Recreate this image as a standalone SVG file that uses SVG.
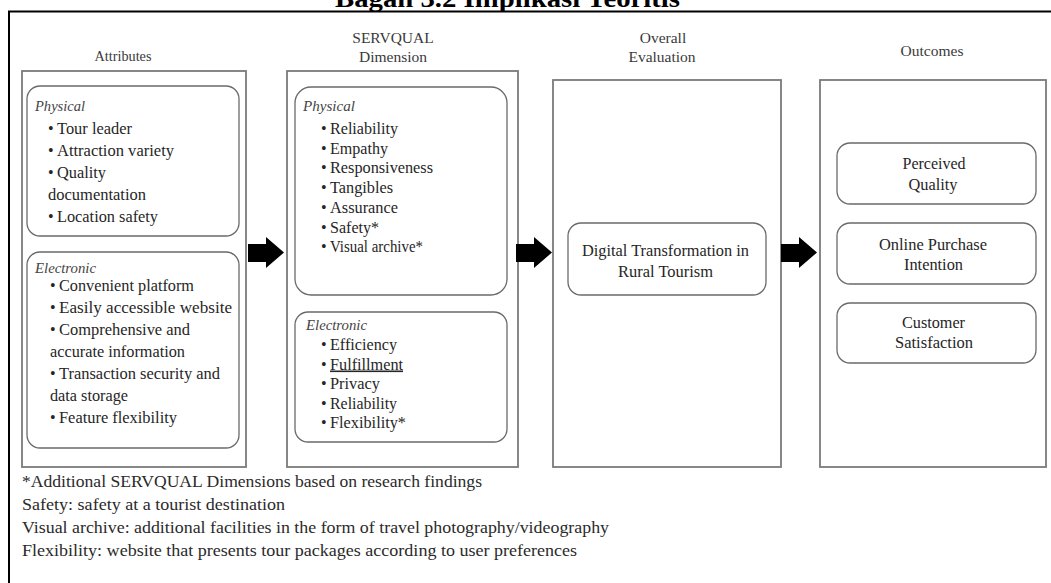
<svg xmlns="http://www.w3.org/2000/svg" width="1051" height="583" viewBox="0 0 1051 583">
<style>
text{font-family:"Liberation Serif","Times New Roman",serif;fill:#262626}
.lbl{font-size:15.5px;fill:#3a3a3a;text-anchor:middle}
.it{font-size:16px}
.hd{font-size:14px;font-style:italic;fill:#444}
.mid{font-size:16px;text-anchor:middle}
.note{font-size:16px;fill:#2a2a2a}
.col{fill:#fff;stroke:#7a7a7a;stroke-width:1.8}
.box{fill:#fff;stroke:#6a6a6a;stroke-width:1.3}
.frame{stroke:#000;stroke-width:2;fill:none}
.arr{fill:#000}
</style>
<defs>
<path id="arrow" d="M0,244 H18 V237 L36,252.5 L18,268 V262 H0 Z"/>
</defs>
<rect width="1051" height="583" fill="#fff"/>
<text x="335" y="7" font-size="26" font-weight="bold" textLength="345" lengthAdjust="spacingAndGlyphs" style="fill:#000">Bagan 3.2 Implikasi Teoritis</text>
<path class="frame" d="M1051,11.5 H9 V583"/>

<g id="attributes">
<rect class="col" x="22" y="71" width="224" height="396"/>
<text class="lbl" x="123" y="61" textLength="57" lengthAdjust="spacingAndGlyphs">Attributes</text>
</g>
<g id="attr-physical">
<rect class="box" x="27" y="86" width="212" height="150" rx="13"/>
<text class="hd" x="35" y="111" textLength="50" lengthAdjust="spacingAndGlyphs">Physical</text>
<text class="it" x="48" y="134">•</text><text class="it" x="57" y="134" textLength="75" lengthAdjust="spacingAndGlyphs">Tour leader</text>
<text class="it" x="48" y="156">•</text><text class="it" x="57" y="156" textLength="117" lengthAdjust="spacingAndGlyphs">Attraction variety</text>
<text class="it" x="48" y="178">•</text><text class="it" x="57" y="178" textLength="49" lengthAdjust="spacingAndGlyphs">Quality</text>
<text class="it" x="48" y="200" textLength="98" lengthAdjust="spacingAndGlyphs">documentation</text>
<text class="it" x="48" y="222">•</text><text class="it" x="57" y="222" textLength="101" lengthAdjust="spacingAndGlyphs">Location safety</text>
</g>
<g id="attr-electronic">
<rect class="box" x="27" y="252" width="212" height="196" rx="13"/>
<text class="hd" x="35" y="273" textLength="61" lengthAdjust="spacingAndGlyphs">Electronic</text>
<text class="it" x="50" y="291">•</text><text class="it" x="59" y="291" textLength="135" lengthAdjust="spacingAndGlyphs">Convenient platform</text>
<text class="it" x="50" y="313">•</text><text class="it" x="59" y="313" textLength="173" lengthAdjust="spacingAndGlyphs">Easily accessible website</text>
<text class="it" x="50" y="335">•</text><text class="it" x="59" y="335" textLength="131" lengthAdjust="spacingAndGlyphs">Comprehensive and</text>
<text class="it" x="50" y="357" textLength="135" lengthAdjust="spacingAndGlyphs">accurate information</text>
<text class="it" x="50" y="379">•</text><text class="it" x="59" y="379" textLength="161" lengthAdjust="spacingAndGlyphs">Transaction security and</text>
<text class="it" x="50" y="401" textLength="78" lengthAdjust="spacingAndGlyphs">data storage</text>
<text class="it" x="50" y="423">•</text><text class="it" x="59" y="423" textLength="118" lengthAdjust="spacingAndGlyphs">Feature flexibility</text>
</g>

<g id="servqual">
<rect class="col" x="287" y="71" width="231" height="396"/>
<text class="lbl" x="393" y="43">SERVQUAL</text>
<text class="lbl" x="393" y="62">Dimension</text>
</g>
<g id="sq-physical">
<rect class="box" x="295" y="87" width="212" height="208" rx="16"/>
<text class="hd" x="303" y="111" textLength="52" lengthAdjust="spacingAndGlyphs">Physical</text>
<text class="it" x="321" y="134">•</text><text class="it" x="330" y="134" textLength="68" lengthAdjust="spacingAndGlyphs">Reliability</text>
<text class="it" x="321" y="153.7">•</text><text class="it" x="330" y="153.7" textLength="58" lengthAdjust="spacingAndGlyphs">Empathy</text>
<text class="it" x="321" y="173.4">•</text><text class="it" x="330" y="173.4" textLength="103" lengthAdjust="spacingAndGlyphs">Responsiveness</text>
<text class="it" x="321" y="193.1">•</text><text class="it" x="330" y="193.1" textLength="63" lengthAdjust="spacingAndGlyphs">Tangibles</text>
<text class="it" x="321" y="212.8">•</text><text class="it" x="330" y="212.8" textLength="68" lengthAdjust="spacingAndGlyphs">Assurance</text>
<text class="it" x="321" y="232.5">•</text><text class="it" x="330" y="232.5" textLength="49" lengthAdjust="spacingAndGlyphs">Safety*</text>
<text class="it" x="321" y="252.2">•</text><text class="it" x="330" y="252.2" textLength="93" lengthAdjust="spacingAndGlyphs">Visual archive*</text>
</g>
<g id="sq-electronic">
<rect class="box" x="295" y="312" width="212" height="130" rx="13"/>
<text class="hd" x="306" y="330" textLength="61" lengthAdjust="spacingAndGlyphs">Electronic</text>
<text class="it" x="321" y="350">•</text><text class="it" x="330" y="350" textLength="67" lengthAdjust="spacingAndGlyphs">Efficiency</text>
<text class="it" x="321" y="369.5">•</text><text class="it" x="330" y="369.5" textLength="73" lengthAdjust="spacingAndGlyphs" text-decoration="underline">Fulfillment</text>
<text class="it" x="321" y="389">•</text><text class="it" x="330" y="389" textLength="50" lengthAdjust="spacingAndGlyphs">Privacy</text>
<text class="it" x="321" y="408.5">•</text><text class="it" x="330" y="408.5" textLength="67" lengthAdjust="spacingAndGlyphs">Reliability</text>
<text class="it" x="321" y="428">•</text><text class="it" x="330" y="428" textLength="76" lengthAdjust="spacingAndGlyphs">Flexibility*</text>
</g>

<g id="overall">
<rect class="col" x="553" y="80" width="228" height="387"/>
<text class="lbl" x="663" y="43">Overall</text>
<text class="lbl" x="662" y="62">Evaluation</text>
</g>
<g id="digital-transformation">
<rect class="box" x="568" y="223" width="198" height="72" rx="13"/>
<text class="mid" x="665.5" y="256" textLength="167" lengthAdjust="spacingAndGlyphs">Digital Transformation in</text>
<text class="mid" x="665.5" y="277" textLength="95" lengthAdjust="spacingAndGlyphs">Rural Tourism</text>
</g>

<g id="outcomes">
<rect class="col" x="820" y="80" width="226" height="387"/>
<text class="lbl" x="932" y="56">Outcomes</text>
</g>
<g id="perceived-quality">
<rect class="box" x="837" y="143" width="199" height="61" rx="13"/>
<text class="mid" x="934" y="169" textLength="63" lengthAdjust="spacingAndGlyphs">Perceived</text>
<text class="mid" x="933" y="190" textLength="49" lengthAdjust="spacingAndGlyphs">Quality</text>
</g>
<g id="online-purchase-intention">
<rect class="box" x="837" y="223" width="199" height="61" rx="13"/>
<text class="mid" x="933" y="250" textLength="108" lengthAdjust="spacingAndGlyphs">Online Purchase</text>
<text class="mid" x="933.5" y="270" textLength="59" lengthAdjust="spacingAndGlyphs">Intention</text>
</g>
<g id="customer-satisfaction">
<rect class="box" x="837" y="303" width="199" height="60" rx="13"/>
<text class="mid" x="933.5" y="328" textLength="63" lengthAdjust="spacingAndGlyphs">Customer</text>
<text class="mid" x="934" y="348" textLength="78" lengthAdjust="spacingAndGlyphs">Satisfaction</text>
</g>

<g id="connectors">
<use href="#arrow" class="arr" x="248"/>
<use href="#arrow" class="arr" x="516"/>
<use href="#arrow" class="arr" x="781"/>
</g>

<g id="notes">
<text class="note" x="22" y="487" textLength="460" lengthAdjust="spacingAndGlyphs">*Additional SERVQUAL Dimensions based on research findings</text>
<text class="note" x="22" y="510" textLength="263" lengthAdjust="spacingAndGlyphs">Safety: safety at a tourist destination</text>
<text class="note" x="22" y="533" textLength="587" lengthAdjust="spacingAndGlyphs">Visual archive: additional facilities in the form of travel photography/videography</text>
<text class="note" x="22" y="556" textLength="555" lengthAdjust="spacingAndGlyphs">Flexibility: website that presents tour packages according to user preferences</text>
</g>
</svg>
